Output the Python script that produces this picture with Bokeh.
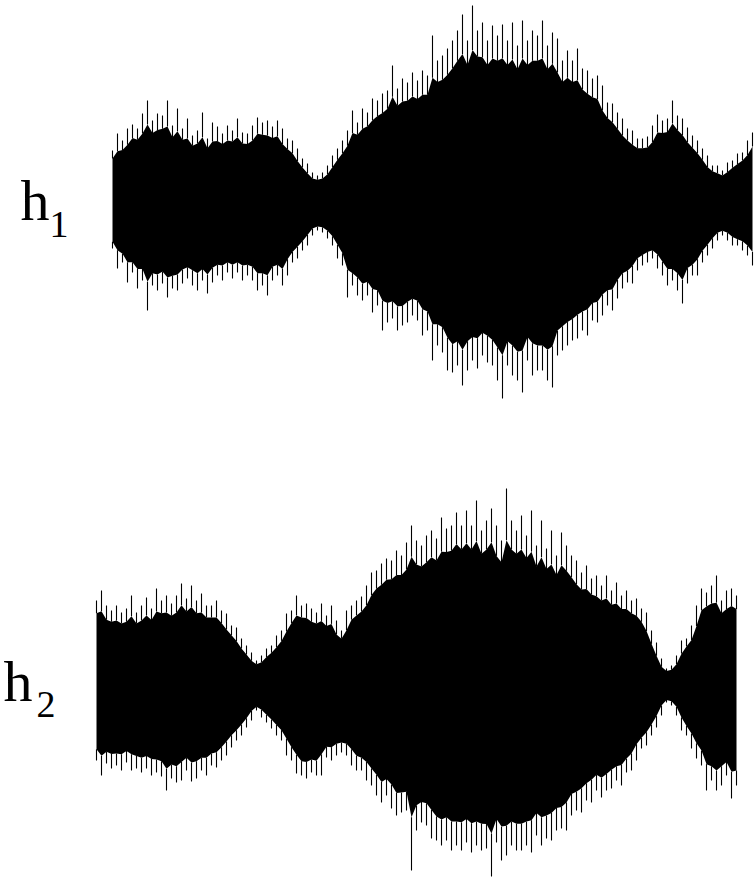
import numpy as np
import pandas as pd
from bokeh.plotting import figure
from bokeh.models import Range1d, Label, ColumnDataSource
from bokeh.layouts import column
from bokeh.embed import file_html
from bokeh.resources import INLINE

# Peak envelope of each recorded channel, one value per block of samples
# (positive = upper peak, negative = lower peak, arbitrary units).
h1_upper = [53, 70, 63, 75, 79, 75, 90, 103, 83, 90, 88, 103, 78, 95, 75, 85, 68, 73, 91, 65,
            81, 77, 70, 78, 73, 85, 71, 70, 78, 86, 81, 83, 77, 83, 75, 65, 63, 55, 45, 40,
            31, 28, 31, 38, 48, 55, 63, 73, 93, 81, 95, 91, 105, 103, 110, 113, 138, 115, 125, 121,
            131, 123, 133, 128, 168, 143, 148, 155, 163, 173, 189, 163, 198, 173, 181, 163, 178, 168, 179, 163,
            181, 158, 183, 163, 173, 168, 183, 158, 171, 165, 143, 153, 143, 155, 135, 133, 125, 128, 118, 101,
            100, 91, 85, 75, 73, 65, 65, 67, 78, 89, 83, 85, 103, 88, 85, 76, 68, 63, 55, 48,
            38, 38, 33, 41, 43, 50, 51, 63, 71]
h1_lower = [-45, -65, -59, -79, -69, -85, -77, -107, -82, -87, -80, -94, -85, -87, -80, -75, -82, -87, -77, -90,
            -79, -72, -77, -69, -75, -69, -77, -72, -77, -87, -82, -92, -77, -72, -82, -72, -59, -55, -47, -42,
            -32, -27, -29, -35, -42, -55, -62, -94, -82, -92, -97, -92, -109, -102, -127, -119, -115, -127, -122, -119,
            -112, -117, -132, -127, -157, -142, -149, -167, -169, -162, -182, -167, -157, -165, -152, -159, -162, -177, -195, -162,
            -172, -177, -189, -157, -172, -167, -167, -177, -184, -152, -147, -142, -137, -135, -127, -132, -117, -119, -112, -102,
            -107, -95, -85, -79, -80, -67, -62, -59, -55, -65, -72, -82, -77, -87, -100, -80, -72, -72, -59, -52,
            -45, -37, -32, -37, -42, -42, -47, -52, -62]

h2_upper = [85, 95, 80, 75, 80, 73, 77, 90, 73, 80, 88, 77, 97, 85, 90, 82, 90, 102, 87, 100,
            85, 92, 80, 80, 85, 75, 72, 60, 58, 47, 40, 33, 25, 30, 37, 40, 50, 55, 72, 75,
            90, 80, 82, 77, 73, 82, 70, 80, 65, 55, 75, 80, 85, 89, 100, 113, 115, 122, 127, 125,
            135, 130, 143, 160, 145, 140, 150, 155, 147, 168, 157, 160, 173, 160, 175, 160, 185, 155, 165, 177,
            160, 145, 197, 165, 155, 170, 150, 175, 140, 165, 137, 155, 130, 153, 140, 130, 125, 113, 120, 107,
            110, 100, 110, 95, 103, 90, 95, 85, 87, 77, 73, 55, 43, 27, 17, 20, 30, 45, 47, 60,
            80, 97, 93, 100, 110, 85, 95, 97, 90]
h2_lower = [-75, -90, -78, -83, -80, -85, -77, -85, -83, -87, -83, -90, -87, -91, -105, -93, -97, -95, -85, -96,
            -93, -85, -90, -80, -82, -75, -70, -62, -55, -50, -42, -35, -25, -32, -37, -43, -50, -55, -70, -75,
            -88, -90, -93, -87, -90, -90, -72, -75, -70, -67, -70, -80, -85, -85, -95, -100, -110, -117, -110, -123,
            -130, -127, -125, -185, -145, -137, -140, -153, -155, -160, -155, -165, -160, -165, -157, -167, -160, -165, -163, -191,
            -157, -175, -170, -160, -165, -165, -160, -167, -150, -160, -153, -155, -145, -143, -145, -130, -125, -127, -115, -117,
            -105, -112, -105, -103, -95, -100, -87, -85, -75, -63, -60, -50, -42, -30, -17, -20, -30, -45, -50, -63,
            -73, -80, -105, -95, -105, -100, -90, -113, -100]

W = 755
TOP_H = 440
BOT_H = 441
BODY = 0.85  # the dense body of the trace relative to its peaks


def waveform_panel(upper, lower, height, x_range, y_range, sub, h_pos, sub_pos):
    n = len(upper)
    block = np.arange(n)
    up = pd.Series(upper, dtype=float)
    lo = pd.Series(lower, dtype=float)
    # body edge: between the local peak and the smallest neighbouring peak
    core_up = BODY * 0.5 * (up + up.rolling(3, center=True, min_periods=1).min())
    core_lo = BODY * 0.5 * (lo + lo.rolling(3, center=True, min_periods=1).max())
    src = ColumnDataSource(dict(t=block, up=up, lo=lo, cup=core_up, clo=core_lo))

    p = figure(width=W, height=height, output_backend="svg", toolbar_location=None,
               x_range=Range1d(*x_range), y_range=Range1d(*y_range),
               min_border=0, min_border_left=0, min_border_right=0,
               min_border_top=0, min_border_bottom=0)
    p.xaxis.visible = False
    p.yaxis.visible = False
    p.grid.visible = False
    p.outline_line_color = None
    p.background_fill_color = "white"
    p.border_fill_color = "white"

    p.varea(x="t", y1="clo", y2="cup", source=src, fill_color="black")
    p.segment(x0="t", y0="cup", x1="t", y1="up", source=src, line_color="black", line_width=1.1)
    p.segment(x0="t", y0="clo", x1="t", y1="lo", source=src, line_color="black", line_width=1.1)

    p.add_layout(Label(x=h_pos[0], y=h_pos[1], x_units="screen", y_units="screen", text="h",
                       text_font="Liberation Serif", text_font_size="58px", text_color="black",
                       text_baseline="alphabetic"))
    p.add_layout(Label(x=sub_pos[0], y=sub_pos[1], x_units="screen", y_units="screen", text=sub,
                       text_font="Liberation Serif", text_font_size="38px", text_color="black",
                       text_baseline="alphabetic"))
    return p


p1 = waveform_panel(h1_upper, h1_lower, TOP_H, (-22.4, 128.6), (-237, 203), "1",
                    (20, 240), (49, 216))
p2 = waveform_panel(h2_upper, h2_lower, BOT_H, (-19.2, 131.8), (-196, 245), "2",
                    (3, 200), (36, 177))

layout = column(p1, p2, spacing=0)
open("out.html", "w").write(file_html(layout, INLINE))
